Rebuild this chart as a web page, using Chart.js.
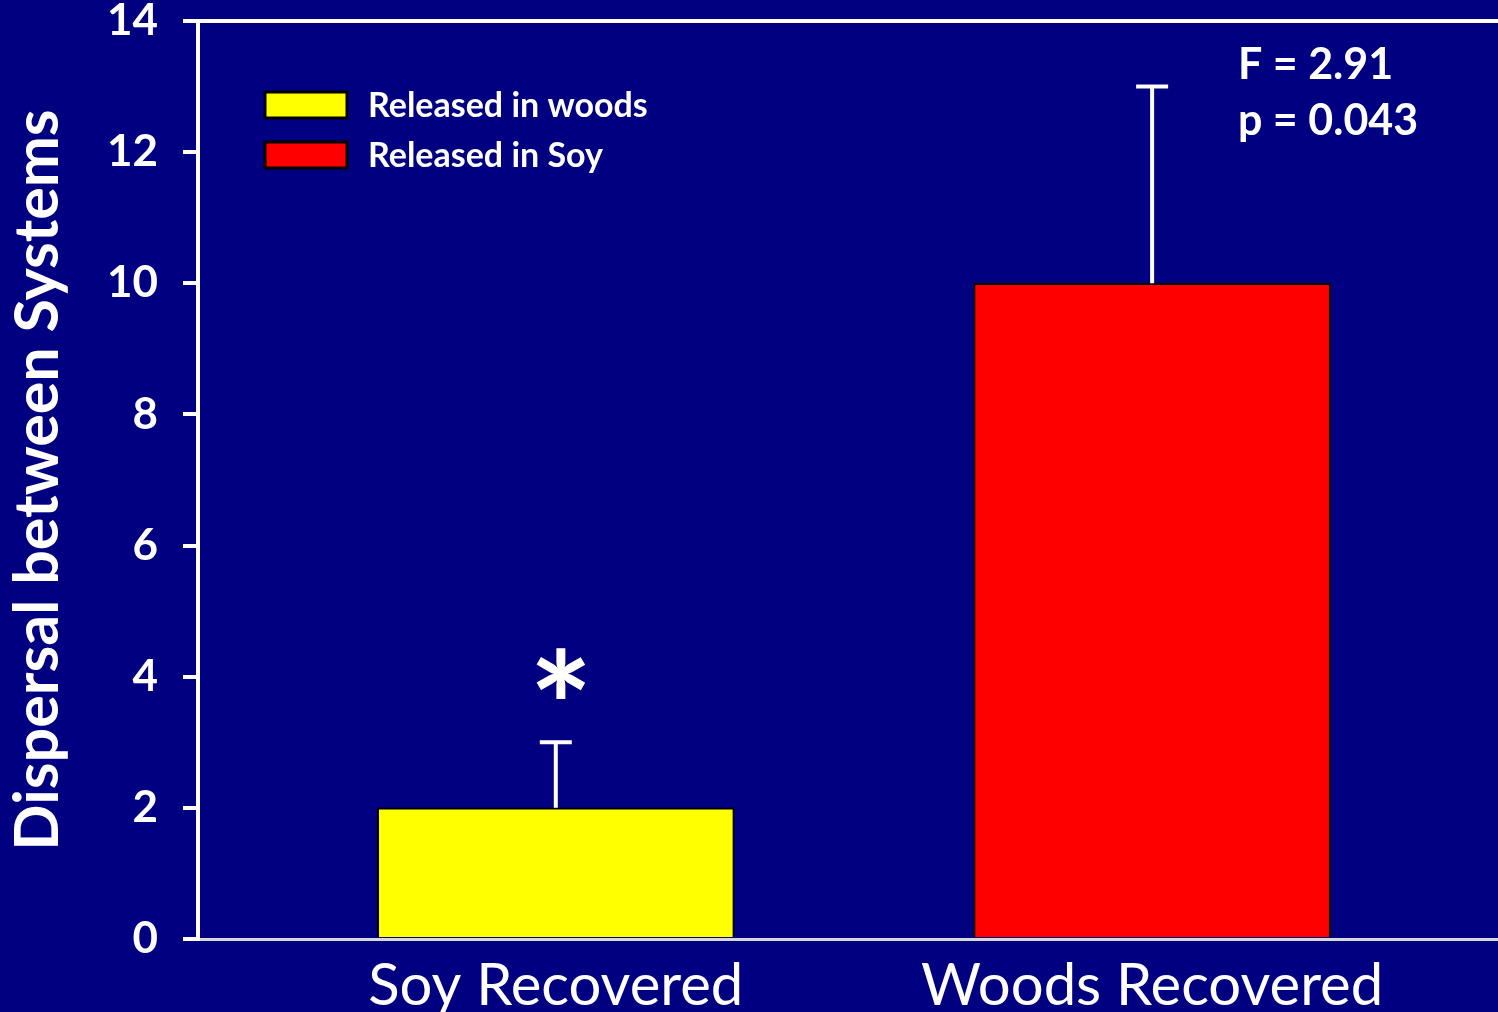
<!DOCTYPE html>
<html>
<head>
<meta charset="utf-8">
<script src="https://cdn.jsdelivr.net/npm/chart.js@4.4.0/dist/chart.umd.min.js"></script>
<style>
html, body { margin:0; padding:0; background:#000080; overflow:hidden; }
</style>
</head>
<body>
<canvas id="chart" width="1498" height="1012"></canvas>
<script>
// data
var categories = ["Soy Recovered", "Woods Recovered"];
var seriesLabels = ["Released in woods", "Released in Soy"];
var seriesColors = ["#ffff00", "#ff0000"];
var means = [2, 10];
var errTops = [3, 13];
var sigMarks = ["*", ""];
var sigMarkY = 4.05;
var statsText = ["F = 2.91", "p = 0.043"];
var yTicks = [0, 2, 4, 6, 8, 10, 12, 14];

var FONT = "Lato";

var datasets = seriesLabels.map(function (lbl, i) {
	return {
		label: lbl,
		data: [{ x: i, y: means[i] }],
		backgroundColor: seriesColors[i],
		borderColor: "#000",
		borderWidth: 2,
		borderSkipped: "bottom",
		barThickness: 357,
		grouped: false
	};
});

// navy background
var bgPlugin = {
	id: "bg",
	beforeDraw: function (chart) {
		var c = chart.ctx;
		c.save();
		c.fillStyle = "#000080";
		c.fillRect(0, 0, chart.width, chart.height);
		c.restore();
	}
};

// error bars (upper only) + significance star
var errPlugin = {
	id: "errbars",
	afterDatasetsDraw: function (chart) {
		var c = chart.ctx;
		var ys = chart.scales.y;
		c.save();
		c.strokeStyle = "#fff";
		c.lineWidth = 4;
		chart.data.datasets.forEach(function (ds, i) {
			var bar = chart.getDatasetMeta(i).data[0];
			var top = ys.getPixelForValue(errTops[i]);
			c.beginPath();
			c.moveTo(bar.x, bar.y);
			c.lineTo(bar.x, top);
			c.moveTo(bar.x - 16, top);
			c.lineTo(bar.x + 16, top);
			c.stroke();
			if (sigMarks[i]) {
				c.fillStyle = "#fff";
				c.font = "bold 150px " + FONT;
				c.textAlign = "center";
				c.textBaseline = "alphabetic";
				var m = c.measureText(sigMarks[i]);
				var cy = ys.getPixelForValue(sigMarkY);
				// centre the glyph's ink box on the target value
				var off = (m.actualBoundingBoxAscent - m.actualBoundingBoxDescent) / 2;
				c.fillText(sigMarks[i], bar.x + 5, cy + off);
			}
		});
		c.restore();
	}
};

// legend inside plot + stats text
var annoPlugin = {
	id: "anno",
	afterDraw: function (chart) {
		var c = chart.ctx;
		c.save();
		chart.data.datasets.forEach(function (ds, i) {
			var y = 92 + i * 50;
			c.fillStyle = ds.backgroundColor;
			c.fillRect(265, y, 82, 26);
			c.strokeStyle = "#000";
			c.lineWidth = 3;
			c.strokeRect(265, y, 82, 26);
			c.fillStyle = "#fff";
			c.font = "bold 34px " + FONT;
			c.textAlign = "left";
			c.textBaseline = "middle";
			c.fillText(ds.label, 368, y + 14);
		});
		c.font = "bold 43px " + FONT;
		c.textBaseline = "alphabetic";
		statsText.forEach(function (t, i) {
			c.fillText(t, 1238, 79 + i * 56);
		});
		c.restore();
	}
};

new Chart(document.getElementById("chart"), {
	type: "bar",
	data: { datasets: datasets },
	options: {
		responsive: false,
		animation: false,
		devicePixelRatio: 1,
		layout: { padding: { top: 21, left: 0, right: 0, bottom: 0 } },
		plugins: {
			legend: { display: false },
			tooltip: { enabled: false }
		},
		scales: {
			x: {
				type: "linear",
				min: -0.6,
				max: 1.58,
				offset: false,
				afterBuildTicks: function (scale) {
					scale.ticks = categories.map(function (c, i) { return { value: i }; });
				},
				afterFit: function (scale) {
					scale.height = 73;
					scale.paddingLeft = 0;
					scale.paddingRight = 0;
				},
				grid: { display: false, drawTicks: false },
				border: { display: true, color: "#d8d8d8", width: 3 },
				ticks: {
					color: "#fff",
					font: { family: FONT, size: 58 },
					padding: 12,
					autoSkip: false,
					maxRotation: 0,
					callback: function (v) { return categories[v]; }
				}
			},
			y: {
				min: 0,
				max: 14,
				afterBuildTicks: function (scale) {
					scale.ticks = yTicks.map(function (v) { return { value: v }; });
				},
				afterFit: function (scale) {
					scale.width = 198;
					scale.paddingTop = 0;
					scale.paddingBottom = 0;
				},
				grid: {
					color: function (ctx) { return ctx.tick && ctx.tick.value === 14 ? "#fff" : "rgba(0,0,0,0)"; },
					lineWidth: 4,
					tickColor: "#fff",
					tickLength: 15,
					drawTicks: true
				},
				border: { display: true, color: "#fff", width: 4 },
				ticks: {
					color: "#fff",
					font: { family: FONT, size: 44, weight: "bold" },
					padding: 25
				},
				title: {
					display: true,
					text: "Dispersal between Systems",
					color: "#fff",
					font: { family: FONT, size: 61, weight: "bold" },
					padding: { top: 2, bottom: 0 }
				}
			}
		}
	},
	plugins: [bgPlugin, errPlugin, annoPlugin]
});
</script>
</body>
</html>
